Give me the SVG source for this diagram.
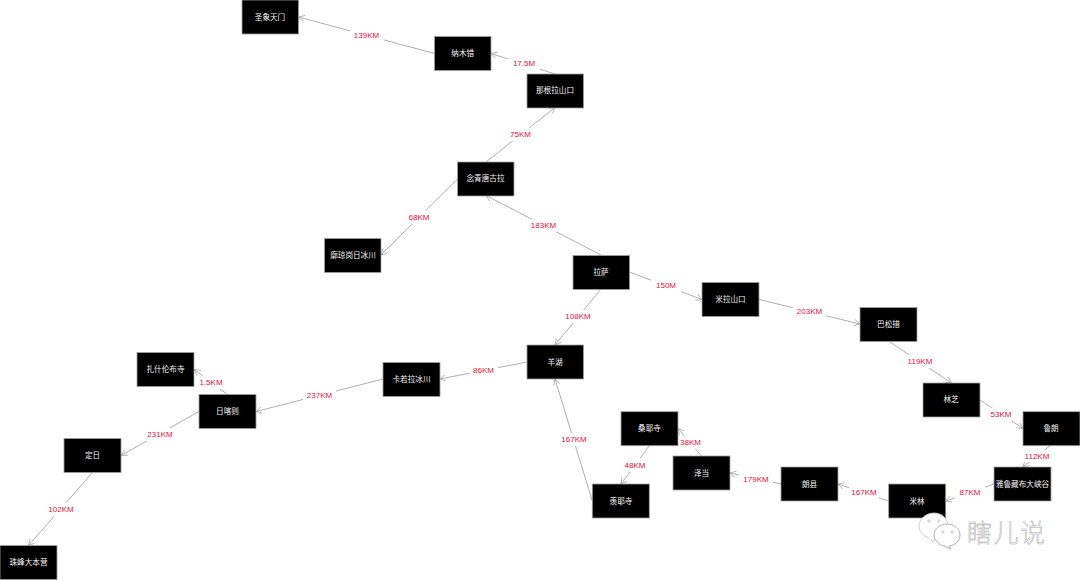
<svg xmlns="http://www.w3.org/2000/svg" width="1080" height="580" viewBox="0 0 1080 580">
<style>
.n rect{fill:#000;stroke:#a0a0a0;stroke-width:.8}
.n text{fill:#f4f4f4;font:7.6px "Noto Sans CJK SC","Liberation Sans",sans-serif;text-anchor:middle;dominant-baseline:central}
.e line{stroke:#a6a6a6;stroke-width:.9;marker-end:url(#a)}
.e rect{fill:#fff}
.e text{fill:#e8103c;font:8px "Liberation Sans",sans-serif;text-anchor:middle;dominant-baseline:central}
</style>
<defs><marker id="a" viewBox="0 0 10 10" refX="9.5" refY="5" markerWidth="7" markerHeight="7" markerUnits="userSpaceOnUse" orient="auto"><path d="M1 .5L9.5 5L1 9.5" fill="none" stroke="#a6a6a6" stroke-width="1.1"/></marker></defs>
<rect width="1080" height="580" fill="#fff"/>
<g id="connectors" class="e">
<line x1="434.5" y1="53.5" x2="298.5" y2="17"/><rect x="350" y="28" width="34" height="13"/><text x="366.5" y="35.5">139KM</text>
<line x1="555" y1="74" x2="491" y2="53.5"/><rect x="508" y="57" width="32" height="13"/><text x="524" y="63.5">17.5M</text>
<line x1="486" y1="162" x2="555" y2="107.5"/><rect x="507" y="128" width="28" height="13"/><text x="520.5" y="134.5">75KM</text>
<line x1="457.5" y1="179" x2="381" y2="255"/><rect x="405" y="210" width="28" height="14"/><text x="419" y="217">68KM</text>
<line x1="601" y1="255" x2="486" y2="195.5"/><rect x="527" y="219" width="33" height="13"/><text x="543.5" y="225.5">183KM</text>
<line x1="629.5" y1="272" x2="702" y2="299.5"/><rect x="651" y="279" width="30" height="13"/><text x="666" y="285.5">150M</text>
<line x1="759" y1="299.5" x2="860" y2="324"/><rect x="793" y="305" width="33" height="13"/><text x="809.5" y="311.5">203KM</text>
<line x1="888.5" y1="341" x2="951.5" y2="383"/><rect x="904" y="355" width="33" height="13"/><text x="920" y="361.5">119KM</text>
<line x1="980" y1="400" x2="1023" y2="428.5"/><rect x="989" y="408" width="25" height="13"/><text x="1001" y="414.5">53KM</text>
<line x1="1051" y1="445" x2="1022.5" y2="467"/><rect x="1022" y="450" width="30" height="12"/><text x="1037" y="456">112KM</text>
<line x1="994" y1="484" x2="945.7" y2="501"/><rect x="955" y="486" width="30" height="13"/><text x="970" y="492.5">87KM</text>
<line x1="888.7" y1="501" x2="838" y2="484"/><rect x="849" y="486" width="30" height="13"/><text x="864" y="492.5">167KM</text>
<line x1="781" y1="484" x2="730" y2="473"/><rect x="739" y="472" width="34" height="13"/><text x="756" y="479">179KM</text>
<line x1="701.5" y1="456" x2="678" y2="428.5"/><rect x="678" y="436" width="25" height="13"/><text x="690.5" y="442.5">38KM</text>
<line x1="649.5" y1="445.5" x2="621" y2="484"/><rect x="622" y="458" width="26" height="14"/><text x="635" y="465">48KM</text>
<line x1="592.3" y1="501" x2="555" y2="379"/><rect x="558" y="433" width="32" height="13"/><text x="574" y="439.5">167KM</text>
<line x1="527" y1="362" x2="440" y2="379"/><rect x="470" y="364" width="28" height="13"/><text x="483.5" y="370.5">86KM</text>
<line x1="601" y1="289" x2="555" y2="345"/><rect x="564" y="310" width="28" height="13"/><text x="578" y="316.5">108KM</text>
<line x1="383" y1="379" x2="256" y2="411.5"/><rect x="303" y="388" width="33" height="14"/><text x="319.5" y="395">237KM</text>
<line x1="227.5" y1="394.5" x2="194" y2="369.5"/><rect x="198" y="376" width="26" height="13"/><text x="211" y="382.5">1.5KM</text>
<line x1="199" y1="411.5" x2="121" y2="455.5"/><rect x="144" y="428" width="32" height="13"/><text x="160" y="434.5">231KM</text>
<line x1="92.5" y1="472.5" x2="28.5" y2="545.5"/><rect x="46" y="503" width="30" height="13"/><text x="61" y="509.5">102KM</text>
</g>
<g id="n1" class="n"><rect x="242" y="0" width="56.5" height="34"/><text x="270" y="16.5">圣象天门</text></g>
<g id="n2" class="n"><rect x="434.5" y="36.5" width="56.5" height="34"/><text x="462.7" y="52.5">纳木错</text></g>
<g id="n3" class="n"><rect x="527" y="74" width="56.5" height="34"/><text x="555" y="89.5">那根拉山口</text></g>
<g id="n4" class="n"><rect x="457.5" y="162" width="56.5" height="34"/><text x="485.5" y="177.5">念青唐古拉</text></g>
<g id="n5" class="n"><rect x="324.5" y="238.5" width="56.5" height="34"/><text x="353" y="254">廓琼岗日冰川</text></g>
<g id="n6" class="n"><rect x="573" y="255.5" width="56.5" height="34"/><text x="601" y="271">拉萨</text></g>
<g id="n7" class="n"><rect x="702" y="282.5" width="57" height="34"/><text x="730.5" y="298.5">米拉山口</text></g>
<g id="n8" class="n"><rect x="860" y="307.5" width="57" height="34"/><text x="888.5" y="323">巴松措</text></g>
<g id="n9" class="n"><rect x="923" y="383" width="57" height="34"/><text x="951" y="398.5">林芝</text></g>
<g id="n10" class="n"><rect x="1023" y="411.7" width="57" height="34"/><text x="1051" y="427.5">鲁朗</text></g>
<g id="n11" class="n"><rect x="994" y="467" width="57" height="34"/><text x="1022.5" y="483">雅鲁藏布大峡谷</text></g>
<g id="n12" class="n"><rect x="888.7" y="484" width="57" height="34"/><text x="917" y="500">米林</text></g>
<g id="n13" class="n"><rect x="781" y="467" width="57" height="34"/><text x="809.5" y="483">朗县</text></g>
<g id="n14" class="n"><rect x="673" y="456" width="57" height="34"/><text x="701.5" y="472">泽当</text></g>
<g id="n15" class="n"><rect x="621" y="411.7" width="57" height="34"/><text x="649.5" y="427.5">桑耶寺</text></g>
<g id="n16" class="n"><rect x="592.3" y="484" width="57" height="34"/><text x="621" y="500">羡耶寺</text></g>
<g id="n17" class="n"><rect x="527" y="345" width="56.5" height="34"/><text x="555" y="361">羊湖</text></g>
<g id="n18" class="n"><rect x="383" y="362.5" width="57" height="34"/><text x="411.5" y="378.5">卡若拉冰川</text></g>
<g id="n19" class="n"><rect x="137" y="352.5" width="57" height="34"/><text x="165.5" y="368.5">扎什伦布寺</text></g>
<g id="n20" class="n"><rect x="199" y="394.5" width="57" height="34"/><text x="227.5" y="410.5">日喀则</text></g>
<g id="n21" class="n"><rect x="64" y="438.5" width="57" height="34"/><text x="92.5" y="454.5">定日</text></g>
<g id="n22" class="n"><rect x="0" y="545.5" width="57" height="34"/><text x="28.5" y="561.5">珠峰大本营</text></g>
<g id="watermark">
<path d="M934 513c8 0 14 6 14 13c0 7-6 13-14 13l-1 3l-6-5c-5-2-8-6-8-11c0-7 7-13 15-13z" fill="#fff" stroke="#c8c8c8" stroke-width=".9"/>
<path d="M947 524c7 0 13 5 13 11c0 6-6 11-11 11l2 3l-7-3c-5-1-10-6-10-11c0-6 6-11 13-11z" fill="#fff" stroke="#a8a8a8" stroke-width=".9"/>
<circle cx="929" cy="521" r="1.2" fill="none" stroke="#aaa" stroke-width=".6"/><circle cx="939" cy="521" r="1.2" fill="none" stroke="#aaa" stroke-width=".6"/>
<circle cx="943" cy="532" r="1.2" fill="none" stroke="#aaa" stroke-width=".6"/><circle cx="952" cy="532" r="1.2" fill="none" stroke="#aaa" stroke-width=".6"/>
<text x="967" y="542" font-family="'Noto Sans CJK SC',sans-serif" font-size="25" font-weight="300" textLength="78" fill="#fff" stroke="#a8a8a8" stroke-width=".5">瞎儿说</text>
</g>
</svg>
